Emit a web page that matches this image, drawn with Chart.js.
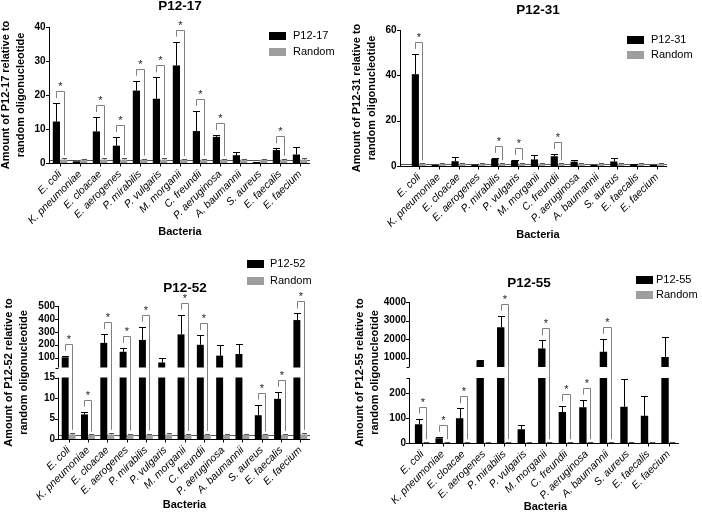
<!DOCTYPE html>
<html><head><meta charset="utf-8">
<script src="https://cdn.jsdelivr.net/npm/chart.js@4"></script>
<style>
html,body{margin:0;padding:0;background:#fff;}
#wrap{position:relative;width:702px;height:520px;overflow:hidden;}
canvas{position:absolute;left:0;top:0;}
</style></head><body>
<div id="wrap">
<canvas id="c1" width="702" height="520"></canvas>
<canvas id="c2" width="702" height="520"></canvas>
<canvas id="c3" width="702" height="520"></canvas>
<canvas id="c4" width="702" height="520"></canvas>
</div>
<script>
const categories = ['E. coli','K. pneumoniae','E. cloacae','E. aerogenes','P. mirabilis','P. vulgaris','M. morganii','C. freundii','P. aeruginosa','A. baumannii','S. aureus','E. faecalis','E. faecium'];

// P12-17
const p17Mean = [12.2, 0.5, 9.3, 5.1, 21.3, 18.9, 28.7, 9.4, 7.7, 2.3, 0.3, 3.8, 2.5];
const p17Err  = [5.4, 0, 4.2, 2.5, 2.9, 6.3, 7.0, 6.0, 0.5, 0.8, 0, 0.5, 2.3];
const p17RandMean = [1.0, 1.0, 1.0, 1.0, 1.0, 1.0, 1.0, 1.0, 1.0, 1.0, 1.0, 1.0, 1.0];
const p17RandErr  = [0.4, 0.2, 0.4, 0.4, 0.3, 0.4, 0.2, 0.3, 0.2, 0.2, 0.2, 0.2, 0.4];
const p17Sig = [1,0,1,1,1,1,1,1,1,0,0,1,0];
const p17Ticks = [0, 10, 20, 30, 40];

// P12-31
const p31Mean = [40.5, 0.5, 2.1, 0.6, 3.2, 2.5, 2.9, 4.3, 1.9, 0.5, 2.0, 0.8, 0.5];
const p31Err  = [9.0, 0, 1.7, 0, 0.4, 0.2, 1.8, 1.0, 0.9, 0, 1.5, 0.1, 0];
const p31RandMean = [1.0, 1.0, 1.0, 1.0, 1.0, 1.0, 1.0, 1.0, 1.0, 1.0, 1.0, 1.0, 1.0];
const p31RandErr  = [0.2, 0.2, 0.3, 0.2, 0.2, 0.3, 0.2, 0.2, 0.2, 0.2, 0.2, 0.2, 0.3];
const p31Sig = [1,0,0,0,1,1,0,1,0,0,0,0,0];
const p31Ticks = [0, 20, 40, 60];

// P12-52
const p52Mean = [102, 6.0, 214, 145, 237, 62, 280, 199, 115, 128, 5.8, 9.8, 391];
const p52Err  = [13, 0.7, 68, 31, 103, 33, 154, 76, 84, 81, 2.6, 1.7, 51];
const p52RandMean = [1.1, 1.0, 1.1, 1.0, 1.0, 1.1, 1.0, 1.0, 1.0, 1.0, 1.0, 1.0, 1.1];
const p52RandErr  = [0.4, 0.1, 0.4, 0.3, 0.3, 0.4, 0.2, 0.2, 0.1, 0.1, 0.1, 0.2, 0.4];
const p52Sig = [1,1,1,1,1,0,1,1,0,0,1,1,1];
const p52Ticks = [0, 5, 10, 15, 100, 200, 300, 400, 500];

// P12-55
const p55Mean = [75, 19, 99, 850, 2640, 55, 1500, 124, 143, 1320, 145, 109, 1040];
const p55Err  = [23, 6, 40, 20, 630, 17, 430, 23, 31, 700, 110, 78, 1070];
const p55RandMean = [2, 2, 2, 2, 2, 2, 2, 2, 2, 2, 2, 2, 2];
const p55RandErr  = [1, 1, 1, 1, 1, 1, 1, 1, 1, 1, 1, 1, 1];
const p55Sig = [1,1,1,0,1,0,1,1,1,1,0,0,0];
const p55Ticks = [0, 100, 200, 1000, 2000, 3000, 4000];

// axis break settings (lower segment top, upper segment bottom, gap in px)
const BRK = {
  c3: {lowMax: 15, highMin: 23, gap: 10},
  c4: {lowMax: 260, highMin: 500, gap: 11}
};

const BLACK = '#000000', GREY = '#9e9e9e';
const FONT = '"Liberation Sans", Arial, sans-serif';
Chart.defaults.font.family = FONT;
Chart.defaults.color = '#000';

class BrokenScale extends Chart.LinearScale {
  getPixelForValue(v) {
    const b = BRK[this.chart.canvas.id];
    if (!b) return super.getPixelForValue(v);
    const seg = (this.bottom - this.top - b.gap) / 2;
    if (v <= b.lowMax) return this.bottom - (v - this.min) / (b.lowMax - this.min) * seg;
    if (v >= b.highMin) return this.bottom - seg - b.gap - (v - b.highMin) / (this.max - b.highMin) * seg;
    return this.bottom - seg - (v - b.lowMax) / (b.highMin - b.lowMax) * b.gap;
  }
  getValueForPixel(p) {
    const b = BRK[this.chart.canvas.id];
    if (!b) return super.getValueForPixel(p);
    const seg = (this.bottom - this.top - b.gap) / 2;
    const d = this.bottom - p;
    if (d <= seg) return this.min + d / seg * (b.lowMax - this.min);
    if (d >= seg + b.gap) return b.highMin + (d - seg - b.gap) / seg * (this.max - b.highMin);
    return b.lowMax + (d - seg) / b.gap * (b.highMin - b.lowMax);
  }
}
BrokenScale.id = 'broken';
BrokenScale.defaults = Chart.LinearScale.defaults;
Chart.register(BrokenScale);

const PANELS = {
  c1: {title: 'P12-17', series: 'P12-17', mean: p17Mean, err: p17Err, rmean: p17RandMean, rerr: p17RandErr, sig: p17Sig, ticks: p17Ticks, max: 40,
       titleAt: [180, 6.5], legend: [269, 36, 16, 293], axisX: 49,
       pad: {left: 0, top: 27, right: 392, bottom: 281}, yW: 50, xH: 76, tickPad: 4.5},
  c2: {title: 'P12-31', series: 'P12-31', mean: p31Mean, err: p31Err, rmean: p31RandMean, rerr: p31RandErr, sig: p31Sig, ticks: p31Ticks, max: 60,
       titleAt: [538, 10], legend: [627, 40, 15, 651], axisX: 400,
       pad: {left: 351, top: 30, right: 35, bottom: 278}, yW: 58, xH: 76, tickPad: 12.5},
  c3: {title: 'P12-52', series: 'P12-52', mean: p52Mean, err: p52Err, rmean: p52RandMean, rerr: p52RandErr, sig: p52Sig, ticks: p52Ticks, max: 500,
       titleAt: [185, 288], legend: [247, 264, 17, 270], axisX: 58,
       pad: {left: 3, top: 306, right: 392, bottom: 8}, yW: 56, xH: 73, tickPad: 4},
  c4: {title: 'P12-55', series: 'P12-55', mean: p55Mean, err: p55Err, rmean: p55RandMean, rerr: p55RandErr, sig: p55Sig, ticks: p55Ticks, max: 4000,
       titleAt: [529, 283], legend: [636, 280, 15, 656], axisX: 409,
       pad: {left: 354, top: 302, right: 23, bottom: 6}, yW: 58, xH: 71, tickPad: 6}
};

const px = v => Math.round(v) + 0.5;

const decor = {
  id: 'decor',
  beforeDatasetsDraw(chart) {
    const P = PANELS[chart.canvas.id];
    const {ctx, chartArea: ca} = chart; const y = chart.scales.y;
    const py = px(y.getPixelForValue(1));
    ctx.save(); ctx.strokeStyle = '#555'; ctx.lineWidth = 1;
    ctx.beginPath(); ctx.moveTo(P.axisX, py); ctx.lineTo(ca.right, py); ctx.stroke();
    ctx.restore();
  },
  afterDatasetsDraw(chart) {
    const P = PANELS[chart.canvas.id];
    const B = BRK[chart.canvas.id];
    const {ctx, chartArea: ca} = chart; const y = chart.scales.y, x = chart.scales.x;
    ctx.save();
    let yLo, yHi;
    if (B) {
      yLo = y.getPixelForValue(B.lowMax); yHi = y.getPixelForValue(B.highMin);
      ctx.fillStyle = '#fff';
      ctx.fillRect(P.axisX + 1, yHi, ca.right - P.axisX + 2, yLo - yHi);
    }
    const mB = chart.getDatasetMeta(0).data, mR = chart.getDatasetMeta(1).data;
    ctx.lineWidth = 1;
    const errBar = (bar, mean, err, color, cap) => {
      if (!err) return;
      const xc = px(bar.x);
      const y0 = y.getPixelForValue(mean), y1 = px(y.getPixelForValue(mean + err));
      ctx.strokeStyle = color;
      ctx.beginPath(); ctx.moveTo(xc, y0); ctx.lineTo(xc, y1);
      ctx.moveTo(xc - cap - 0.5, y1); ctx.lineTo(xc + cap + 0.5, y1); ctx.stroke();
    };
    categories.forEach((c, i) => {
      errBar(mB[i], P.mean[i], P.err[i], '#000', 3);
      errBar(mR[i], P.rmean[i], P.rerr[i], '#555', 2);
    });
    ctx.strokeStyle = '#808080'; ctx.fillStyle = '#222';
    ctx.font = '11px ' + FONT; ctx.textAlign = 'center'; ctx.textBaseline = 'alphabetic';
    categories.forEach((c, i) => {
      if (!P.sig[i]) return;
      const xl = px(mB[i].x), xr = px(mR[i].x);
      const tB = y.getPixelForValue(P.mean[i] + P.err[i]);
      const tR = y.getPixelForValue(P.rmean[i] + P.rerr[i]);
      const top = px(Math.min(tB, tR) - 12);
      ctx.beginPath();
      ctx.moveTo(xl, tB - 5); ctx.lineTo(xl, top); ctx.lineTo(xr, top); ctx.lineTo(xr, tR - 3);
      ctx.stroke();
      ctx.fillText('*', (xl + xr) / 2, top - 1.5);
    });
    // axes
    ctx.strokeStyle = '#000';
    const ax = px(P.axisX), by = px(ca.bottom);
    ctx.beginPath();
    if (B) {
      ctx.moveTo(ax, by); ctx.lineTo(ax, yLo);
      ctx.moveTo(ax, yHi); ctx.lineTo(ax, ca.top);
      ctx.moveTo(ax - 3, px(yLo)); ctx.lineTo(ax, px(yLo));
      ctx.moveTo(ax - 3, px(yHi)); ctx.lineTo(ax, px(yHi));
    } else {
      ctx.moveTo(ax, by); ctx.lineTo(ax, ca.top);
    }
    P.ticks.forEach(v => { const t = px(y.getPixelForValue(v)); ctx.moveTo(ax - 3.5, t); ctx.lineTo(ax, t); });
    ctx.moveTo(ax - 0.5, by); ctx.lineTo(ca.right, by);
    categories.forEach((c, i) => { const xc = px(x.getPixelForValue(i)); ctx.moveTo(xc, by); ctx.lineTo(xc, by + 3); });
    ctx.stroke();
    ctx.restore();
  },
  afterDraw(chart) {
    const P = PANELS[chart.canvas.id];
    const ctx = chart.ctx;
    ctx.save();
    ctx.fillStyle = '#000';
    ctx.font = 'bold 13.5px ' + FONT; ctx.textAlign = 'center'; ctx.textBaseline = 'middle';
    ctx.fillText(P.title, P.titleAt[0], P.titleAt[1]);
    const [lx, ly, dy, tx] = P.legend;
    ctx.fillStyle = BLACK; ctx.fillRect(lx, ly - 4, 17, 8);
    ctx.fillStyle = GREY; ctx.fillRect(lx, ly + dy - 4, 17, 8);
    ctx.fillStyle = '#000'; ctx.font = '11px ' + FONT; ctx.textAlign = 'left';
    ctx.fillText(P.series, tx, ly); ctx.fillText('Random', tx, ly + dy);
    ctx.restore();
  }
};

function makeChart(id) {
  const P = PANELS[id];
  return new Chart(document.getElementById(id), {
    type: 'bar',
    data: {
      labels: categories,
      datasets: [
        {label: P.series, data: P.mean, backgroundColor: BLACK, borderWidth: 0, barPercentage: 1, categoryPercentage: 0.72},
        {label: 'Random', data: P.rmean, backgroundColor: GREY, borderWidth: 0, barPercentage: 1, categoryPercentage: 0.72}
      ]
    },
    options: {
      responsive: false, animation: false, events: [],
      layout: {padding: P.pad},
      plugins: {legend: {display: false}, tooltip: {enabled: false}, title: {display: false}},
      scales: {
        x: {
          type: 'category', offset: true,
          grid: {display: false, drawTicks: false}, border: {display: false},
          ticks: {autoSkip: false, maxRotation: 45, minRotation: 45, padding: 5, color: '#000', font: {size: 10.5, style: 'italic'}},
          title: {display: true, text: 'Bacteria', color: '#000', font: {size: 11, weight: 'bold'}, padding: 0},
          afterFit: s => { s.height = P.xH; }
        },
        y: {
          type: BRK[id] ? 'broken' : 'linear', min: 0, max: P.max,
          grid: {display: false, drawTicks: false}, border: {display: false},
          ticks: {autoSkip: false, padding: P.tickPad, color: '#000', font: {size: 10, weight: 'bold'}, callback: v => String(v)},
          afterBuildTicks: s => { s.ticks = P.ticks.map(v => ({value: v})); },
          title: {display: true, text: ['Amount of ' + P.series + ' relative to', 'random oligonucleotide'], color: '#000',
                  font: {size: 11, weight: 'bold', lineHeight: '15px'}, padding: {top: -2, bottom: 0}},
          afterFit: s => { s.width = P.yW; }
        }
      }
    },
    plugins: [decor]
  });
}
['c1', 'c2', 'c3', 'c4'].forEach(makeChart);
</script>
</body></html>
